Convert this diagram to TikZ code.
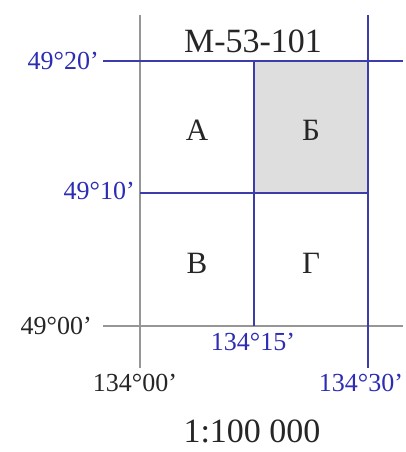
\documentclass[tikz,border=0pt]{standalone}
\usepackage{fontspec}
\setmainfont{Liberation Serif}
\definecolor{gridblue}{RGB}{60,60,170}
\definecolor{labblue}{RGB}{45,45,180}
\definecolor{gridgray}{RGB}{150,150,150}
\definecolor{fillgray}{RGB}{222,222,222}
\tikzset{
  blueline/.style={draw=gridblue,line width=1.6pt},
  grayline/.style={draw=gridgray,line width=1.8pt},
  smalllab/.style={inner sep=0pt,font=\fontsize{26}{30}\selectfont},
  bluelab/.style={smalllab,text=labblue},
  blacklab/.style={smalllab,text=black!85},
  sheet/.style={inner sep=0pt,font=\fontsize{31}{36}\selectfont,text=black!85},
  bigtext/.style={inner sep=0pt,font=\fontsize{34}{40}\selectfont,text=black!85}
}
\begin{document}
\begin{tikzpicture}[x=1pt,y=-1pt]
\useasboundingbox (0,0) rectangle (406,452);
\fill[white] (0,0) rectangle (406,452);
% coordinates
\coordinate (tl) at (140,61);
\coordinate (tm) at (254,61);
\coordinate (tr) at (368,61);
\coordinate (ml) at (140,193);
\coordinate (mm) at (254,193);
\coordinate (mr) at (368,193);
\coordinate (bl) at (140,326);
\coordinate (bm) at (254,326);
\coordinate (br) at (368,326);
\coordinate (vltop) at (140,15);
\coordinate (vlbot) at (140,368);
\coordinate (vrtop) at (368,15);
\coordinate (vrbot) at (368,368);
\coordinate (htl) at (103,61);
\coordinate (htr) at (403,61);
\coordinate (hbl) at (103,326);
\coordinate (hbr) at (403,326);
% shaded sheet
\fill[fillgray] (tm) rectangle (mr);
% lines
\draw[grayline] (vltop) -- (vlbot);
\draw[grayline] (hbl) -- (hbr);
\draw[blueline] (vrtop) -- (vrbot);
\draw[blueline] (htl) -- (htr);
\draw[blueline] (tm) -- (bm);
\draw[blueline] (ml) -- (mr);
% texts
\node[bigtext] (title) at (253,41) {М-53-101};
\node[bigtext] (scale) at (252,431) {1:100 000};
\node[sheet] (A) at (197,130) {А};
\node[sheet] (B) at (311,130) {Б};
\node[sheet] (V) at (197,263) {В};
\node[sheet] (G) at (311,263) {Г};
\node[bluelab,anchor=east] (l20) at (99,61) {49°20'};
\node[bluelab,anchor=east] (l10) at (135,191) {49°10'};
\node[blacklab,anchor=east] (l00) at (92,326) {49°00'};
\node[bluelab] (m15) at (253,342) {134°15'};
\node[blacklab] (m00) at (135,383) {134°00'};
\node[bluelab] (m30) at (361,383) {134°30'};
\end{tikzpicture}
\end{document}
